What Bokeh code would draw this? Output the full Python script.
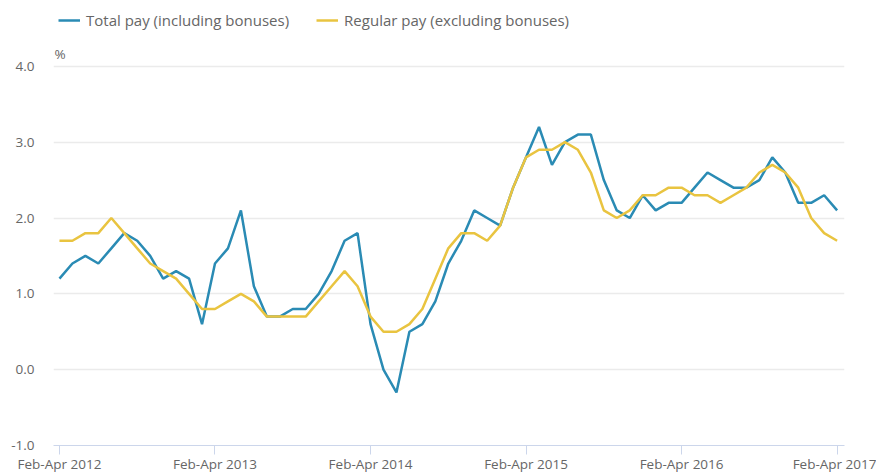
from bokeh.plotting import figure
from bokeh.models import (ColumnDataSource, Range1d, FixedTicker, PrintfTickFormatter,
                          Legend, LegendItem, Label)
from bokeh.embed import file_html
from bokeh.resources import INLINE

# ---- data ----
month_names = ["Jan", "Feb", "Mar", "Apr", "May", "Jun",
               "Jul", "Aug", "Sep", "Oct", "Nov", "Dec"]
periods = []
for k in range(61):
    m0 = (1 + k) % 12
    y0 = 2012 + (1 + k) // 12
    m2 = (m0 + 2) % 12
    y2 = y0 + (m0 + 2) // 12
    periods.append(f"{month_names[m0]}-{month_names[m2]} {y2}")

total_pay = [1.2, 1.4, 1.5, 1.4, 1.6, 1.8, 1.7, 1.5, 1.2, 1.3,
             1.2, 0.6, 1.4, 1.6, 2.1, 1.1, 0.7, 0.7, 0.8, 0.8,
             1.0, 1.3, 1.7, 1.8, 0.6, 0.0, -0.3, 0.5, 0.6, 0.9,
             1.4, 1.7, 2.1, 2.0, 1.9, 2.4, 2.8, 3.2, 2.7, 3.0,
             3.1, 3.1, 2.5, 2.1, 2.0, 2.3, 2.1, 2.2, 2.2, 2.4,
             2.6, 2.5, 2.4, 2.4, 2.5, 2.8, 2.6, 2.2, 2.2, 2.3,
             2.1]
regular_pay = [1.7, 1.7, 1.8, 1.8, 2.0, 1.8, 1.6, 1.4, 1.3, 1.2,
               1.0, 0.8, 0.8, 0.9, 1.0, 0.9, 0.7, 0.7, 0.7, 0.7,
               0.9, 1.1, 1.3, 1.1, 0.7, 0.5, 0.5, 0.6, 0.8, 1.2,
               1.6, 1.8, 1.8, 1.7, 1.9, 2.4, 2.8, 2.9, 2.9, 3.0,
               2.9, 2.6, 2.1, 2.0, 2.1, 2.3, 2.3, 2.4, 2.4, 2.3,
               2.3, 2.2, 2.3, 2.4, 2.6, 2.7, 2.6, 2.4, 2.0, 1.8,
               1.7]
tick_labels = ["Feb-Apr 2012", "Feb-Apr 2013", "Feb-Apr 2014",
               "Feb-Apr 2015", "Feb-Apr 2016", "Feb-Apr 2017"]
y_ticks = [-1, 0, 1, 2, 3, 4]

series_names = ["Total pay (including bonuses)", "Regular pay (excluding bonuses)"]
colors = ["#2a8bb4", "#e9c440"]

src = ColumnDataSource(dict(idx=list(range(len(periods))), period=periods,
                            total=total_pay, regular=regular_pay))

FONT = "Open Sans"
TXT = "#666666"

# frame: x 53..844, y 0..446 (room above 4.0 for legend and unit label)
p = figure(width=876, height=475, output_backend="svg", toolbar_location=None,
           x_range=Range1d(-0.46, 60.57), y_range=Range1d(-1, 4 + 66 / 76.0),
           min_border_left=53, min_border_right=32, min_border_top=0,
           min_border_bottom=29)
p.outline_line_color = None
p.background_fill_color = "white"
p.border_fill_color = "white"

r1 = p.line("idx", "total", source=src, line_color=colors[0], line_width=2.5)
r2 = p.line("idx", "regular", source=src, line_color=colors[1], line_width=2.5)

# x axis
tick_pos = [periods.index(t) for t in tick_labels]
p.xaxis.ticker = FixedTicker(ticks=tick_pos)
p.xaxis.major_label_overrides = {i: t for i, t in zip(tick_pos, tick_labels)}
p.xaxis.axis_line_color = "#ccd6eb"
p.xaxis.axis_line_width = 1
p.xaxis.major_tick_line_color = "#ccd6eb"
p.xaxis.major_tick_out = 9
p.xaxis.major_tick_in = 0
p.xaxis.minor_tick_line_color = None
p.xaxis.major_label_standoff = 0
p.xaxis.major_label_text_font = FONT
p.xaxis.major_label_text_font_size = "13.5px"
p.xaxis.major_label_text_color = TXT
p.xgrid.grid_line_color = None

# y axis
p.yaxis.ticker = FixedTicker(ticks=y_ticks)
p.yaxis.formatter = PrintfTickFormatter(format="%.1f")
p.yaxis.axis_line_color = None
p.yaxis.major_tick_line_color = None
p.yaxis.minor_tick_line_color = None
p.yaxis.major_label_standoff = 13
p.yaxis.major_label_text_font = FONT
p.yaxis.major_label_text_font_size = "13.5px"
p.yaxis.major_label_text_color = TXT
p.ygrid.grid_line_color = "#ebebeb"
p.ygrid.grid_line_width = 1.5

# unit label
p.add_layout(Label(x=-0.46, y=4, text="%", x_offset=1, y_offset=3,
                   text_baseline="bottom", text_font=FONT,
                   text_font_size="13.5px", text_color=TXT))

legend = Legend(items=[LegendItem(label=series_names[0], renderers=[r1]),
                       LegendItem(label=series_names[1], renderers=[r2])],
                location=(5, 446 - 31), orientation="horizontal",
                glyph_width=22, glyph_height=18, label_height=18,
                label_standoff=6, spacing=27, padding=0, margin=0,
                border_line_color=None, background_fill_alpha=0,
                label_text_font=FONT, label_text_font_size="15px",
                label_text_color=TXT)
p.add_layout(legend, "center")

open("out.html", "w").write(file_html(p, INLINE))
